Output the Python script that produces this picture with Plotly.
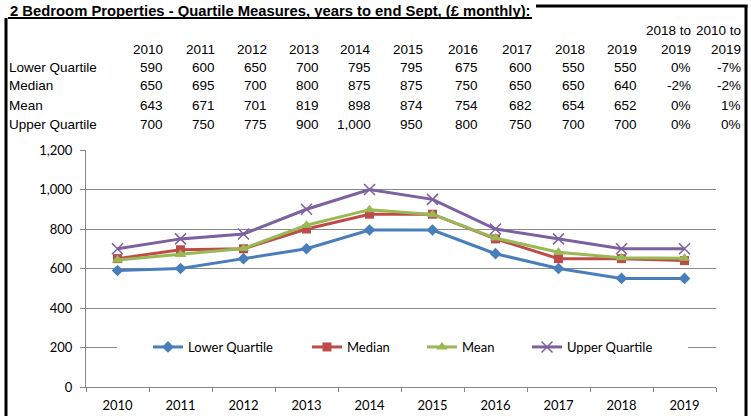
import plotly.graph_objects as go

# ---- data -------------------------------------------------------------
years = ["2010", "2011", "2012", "2013", "2014", "2015", "2016", "2017", "2018", "2019"]
lower_quartile = [590, 600, 650, 700, 795, 795, 675, 600, 550, 550]
median = [650, 695, 700, 800, 875, 875, 750, 650, 650, 640]
mean = [643, 671, 701, 819, 898, 874, 754, 682, 654, 652]
upper_quartile = [700, 750, 775, 900, 1000, 950, 800, 750, 700, 700]
change_2018_2019 = ["0%", "-2%", "0%", "0%"]
change_2010_2019 = ["-7%", "-2%", "1%", "0%"]

series_names = ["Lower Quartile", "Median", "Mean", "Upper Quartile"]
series_values = [lower_quartile, median, mean, upper_quartile]
y_ticks = [0, 200, 400, 600, 800, 1000, 1200]

title_text = "2 Bedroom Properties - Quartile Measures, years to end Sept, (£ monthly):"

# ---- page geometry (pixels) ------------------------------------------
W, H = 751, 416
L, R, T, B = 86, 716, 150, 387
PW, PH = R - L, B - T


def px_x(x):
    return (x - L) / PW


def px_y(y):
    return (B - y) / PH


colors = ["#4A7EBB", "#BE4B48", "#98B954", "#7D60A0"]
symbols = ["diamond", "square", "triangle-up", "x-thin"]
sizes = [9, 9, 10, 11]
legend_ids = ["legend", "legend2", "legend3", "legend4"]
legend_symbol_x = [153, 312, 427, 532]

CHART_FONT = "Lato, Calibri, Carlito, sans-serif"
TABLE_FONT = "Liberation Sans, Arial, sans-serif"

fig = go.Figure()
for name, vals, col, sym, sz, lg in zip(series_names, series_values, colors,
                                        symbols, sizes, legend_ids):
    marker = dict(symbol=sym, size=sz, color=col)
    if sym == "x-thin":
        marker["line"] = dict(color=col, width=1.5)
    fig.add_trace(go.Scatter(
        x=years, y=vals, name=name, mode="lines+markers",
        line=dict(color=col, width=3), marker=marker,
        legend=lg, cliponaxis=False,
    ))

annotations = []
shapes = []

# title, underlined
annotations.append(dict(
    text="<b>" + title_text + "</b>", x=px_x(8), y=px_y(11),
    xref="paper", yref="paper", xanchor="left", yanchor="middle",
    showarrow=False, font=dict(family=TABLE_FONT, size=14.8, color="#000"),
))
shapes.append(dict(type="line", xref="paper", yref="paper",
                   x0=px_x(8), x1=px_x(532), y0=px_y(18), y1=px_y(18),
                   line=dict(color="#000", width=2)))

# table
col_right = [165, 217, 269, 321, 373, 425, 480, 534, 587, 639]
chg_right = [693, 743]
row_y = {"head1": 31, "head2": 49, "rows": [67, 86, 105, 125]}


def table_text(txt, x, y, anchor="right"):
    annotations.append(dict(
        text=txt, x=px_x(x), y=px_y(y), xref="paper", yref="paper",
        xanchor=anchor, yanchor="middle", showarrow=False,
        font=dict(family=TABLE_FONT, size=13.5, color="#000"),
    ))


for yr, xr in zip(years, col_right):
    table_text(yr, xr, row_y["head2"])
table_text("2018 to", chg_right[0], row_y["head1"])
table_text("2010 to", chg_right[1], row_y["head1"])
table_text(years[-1], chg_right[0], row_y["head2"])
table_text(years[-1], chg_right[1], row_y["head2"])

for name, vals, c1, c2, ry in zip(series_names, series_values,
                                  change_2018_2019, change_2010_2019,
                                  row_y["rows"]):
    table_text(name, 7, ry, anchor="left")
    for v, xr in zip(vals, col_right):
        table_text(f"{v:,}", xr, ry)
    table_text(c1, chg_right[0], ry)
    table_text(c2, chg_right[1], ry)

# outer frame
frame = dict(color="#000", width=3)
shapes.append(dict(type="line", xref="paper", yref="paper",
                   x0=px_x(6), x1=px_x(6), y0=px_y(18), y1=px_y(420), line=frame))
shapes.append(dict(type="line", xref="paper", yref="paper",
                   x0=px_x(746), x1=px_x(746), y0=px_y(5), y1=px_y(420), line=frame))
shapes.append(dict(type="line", xref="paper", yref="paper",
                   x0=px_x(536), x1=px_x(747.5), y0=px_y(6), y1=px_y(6), line=frame))

# white panel behind the legend
shapes.append(dict(type="rect", xref="paper", yref="paper", layer="above",
                   x0=px_x(117), x1=px_x(688), y0=px_y(333), y1=px_y(361),
                   fillcolor="#fff", line=dict(width=0)))

layout_legends = {}
for lg, sx in zip(legend_ids, legend_symbol_x):
    layout_legends[lg] = dict(
        x=px_x(sx - 5), y=px_y(347), xanchor="left", yanchor="middle",
        xref="paper", yref="paper", bgcolor="rgba(0,0,0,0)",
        font=dict(family=CHART_FONT, size=13, color="#000"),
        itemwidth=30, borderwidth=0, tracegroupgap=0,
    )

fig.update_layout(
    width=W, height=H,
    margin=dict(l=L, r=W - R, t=T, b=H - B, pad=0, autoexpand=False),
    paper_bgcolor="#fff", plot_bgcolor="#fff",
    showlegend=True,
    annotations=annotations, shapes=shapes,
    xaxis=dict(
        type="category", range=[-0.5, 9.5], tickson="boundaries",
        ticks="outside", ticklen=4, tickcolor="#868686", tickwidth=1,
        showline=True, linecolor="#868686", linewidth=1,
        showgrid=False, zeroline=False, automargin=False,
        tickfont=dict(family=CHART_FONT, size=13, color="#000"),
        ticklabelstandoff=6,
    ),
    yaxis=dict(
        range=[0, 1200], tickvals=y_ticks, tickformat=",",
        ticks="outside", ticklen=5, tickcolor="#868686",
        showline=True, linecolor="#868686", linewidth=1,
        showgrid=True, gridcolor="#8a8a8a", gridwidth=1, zeroline=False,
        automargin=False,
        tickfont=dict(family=CHART_FONT, size=13, color="#000"),
        ticklabelstandoff=5,
    ),
    **layout_legends,
)

fig.write_html("out.html")
